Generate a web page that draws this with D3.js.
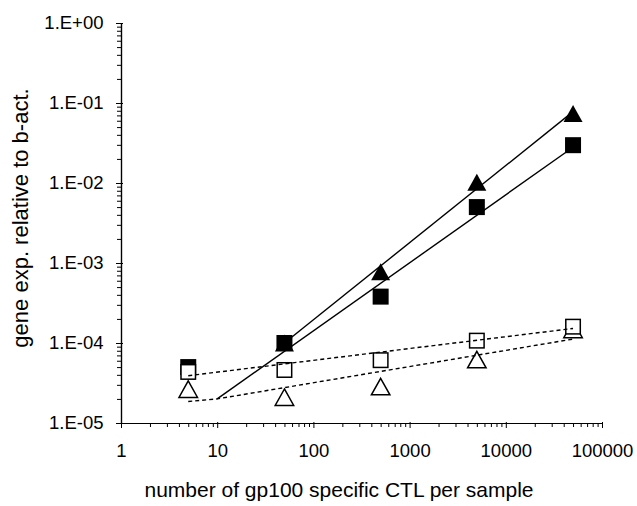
<!DOCTYPE html>
<html>
<head>
<meta charset="utf-8">
<script src="https://cdn.jsdelivr.net/npm/d3@7"></script>
<style>
  body { margin: 0; background: #fff; }
  text { font-family: "Liberation Sans", Arial, sans-serif; fill: #000; }
</style>
</head>
<body>
<div class="d3"></div>
<script>
// cells per sample
var cells = [5, 50, 500, 5000, 50000];

// marker series (null = not drawn)
var filledTriangle = [null, 1.0e-4, 7.8e-4, 1.02e-2, 7.4e-2];
var filledSquare   = [5.0e-5, 1.0e-4, 3.8e-4, 5.0e-3, 2.97e-2];
var openSquare     = [4.35e-5, 4.6e-5, 6.1e-5, 1.07e-4, 1.6e-4];
var openTriangle   = [2.65e-5, 2.1e-5, 2.85e-5, 6.2e-5, 1.48e-4];

// trend lines
var solidTriLine  = { x: [50, 50000], y: [1.0e-4, 7.8e-2] };
var solidSqLine   = { x: [10, 50000], y: [2.0e-5, 2.8e-2] };
var dashedSqLine  = { x: [5, 50000], y: [3.9e-5, 1.52e-4] };
var dashedTriLine = { x: [5, 10, 50000], y: [1.86e-5, 2.0e-5, 1.12e-4] };

// axis ticks
var xTickValues = [1, 10, 100, 1000, 10000, 100000];
var xTickLabels = ["1", "10", "100", "1000", "10000", "100000"];
var yTickValues = [1e-5, 1e-4, 1e-3, 1e-2, 1e-1, 1];
var yTickLabels = ["1.E-05", "1.E-04", "1.E-03", "1.E-02", "1.E-01", "1.E+00"];

var w = 637, h = 506;

var svg = d3.select(".d3").append("svg")
	.attr("width", w)
	.attr("height", h);

var xScale = d3.scaleLog().domain([1, 1e5]).range([121, 602]);
var yScale = d3.scaleLog().domain([1e-5, 1]).range([423, 23]);

// minor ticks 2..9 of every decade
function minors(decades) {
	var out = [];
	decades.slice(0, -1).forEach(d => {
		for (var k = 2; k <= 9; k++) out.push(d * k);
	});
	return out;
}

// --- axes
var xMinor = d3.axisBottom(xScale).tickValues(minors(xTickValues)).tickSize(4).tickSizeOuter(0).tickFormat("");
var xMajor = d3.axisBottom(xScale).tickValues(xTickValues).tickSize(5).tickSizeOuter(0)
	.tickFormat((d, i) => xTickLabels[i]);
var yMinor = d3.axisLeft(yScale).tickValues(minors(yTickValues)).tickSize(4).tickSizeOuter(0).tickFormat("");
var yMajor = d3.axisLeft(yScale).tickValues(yTickValues).tickSize(5).tickSizeOuter(0)
	.tickFormat((d, i) => yTickLabels[i]);

var gx = svg.append("g").attr("transform", "translate(0,423)");
gx.append("g").call(xMinor);
gx.append("g").call(xMajor);
gx.selectAll("text")
	.attr("y", 34).attr("dy", null)
	.style("font-size", "18.5px");

var gy = svg.append("g").attr("transform", "translate(121,0)");
gy.append("g").call(yMinor);
gy.append("g").call(yMajor);
gy.selectAll("text")
	.attr("x", -17.5)
	.style("font-size", "18.5px");

// major ticks poke a little into the plot
gx.selectAll("line").filter(d => xTickValues.includes(d)).attr("y1", -1);
gy.selectAll("line").filter(d => yTickValues.includes(d)).attr("x1", 2);

svg.selectAll(".domain").attr("stroke", "#000").attr("stroke-width", 1.2);
svg.selectAll(".tick line").attr("stroke", "#000").attr("stroke-width", 1);

// --- markers
var tri = (s) => "M0," + (-s / 2) + "L" + (s / 2 + 1) + "," + (s / 2) + "L" + (-s / 2 - 1) + "," + (s / 2) + "Z";

function drawMarkers(values, shape, filled) {
	var pts = cells.map((c, i) => ({ x: c, y: values[i] })).filter(d => d.y != null);
	var g = svg.append("g");
	if (shape == "square") {
		var s = filled ? 16 : 14.5;
		g.selectAll("rect").data(pts).enter().append("rect")
			.attr("x", d => xScale(d.x) - s / 2)
			.attr("y", d => yScale(d.y) - s / 2)
			.attr("width", s).attr("height", s)
			.attr("fill", filled ? "#000" : "#fff")
			.attr("stroke", "#000")
			.attr("stroke-width", filled ? 0 : 1.5);
	} else {
		var s2 = filled ? 17 : 16.5;
		g.selectAll("path").data(pts).enter().append("path")
			.attr("transform", d => "translate(" + xScale(d.x) + "," + yScale(d.y) + ")")
			.attr("d", tri(s2))
			.attr("fill", filled ? "#000" : "#fff")
			.attr("stroke", "#000")
			.attr("stroke-width", filled ? 0 : 1.5);
	}
}

drawMarkers(filledTriangle, "triangle", true);
drawMarkers(filledSquare, "square", true);
drawMarkers(openTriangle, "triangle", false);
drawMarkers(openSquare, "square", false);

// --- lines (drawn over the markers, as in the original)
var line = d3.line().x(d => xScale(d[0])).y(d => yScale(d[1]));
function drawLine(l, dashed) {
	svg.append("path")
		.datum(l.x.map((v, i) => [v, l.y[i]]))
		.attr("d", line)
		.attr("fill", "none")
		.attr("stroke", "#000")
		.attr("stroke-width", 1.4)
		.attr("stroke-dasharray", dashed ? "4,3" : null);
}
drawLine(dashedSqLine, true);
drawLine(dashedTriLine, true);
drawLine(solidTriLine, false);
drawLine(solidSqLine, false);

// --- titles
svg.append("text")
	.attr("x", 339).attr("y", 497)
	.attr("text-anchor", "middle")
	.style("font-size", "21px")
	.text("number of gp100 specific CTL per sample");

svg.append("text")
	.attr("transform", "translate(28,218) rotate(-90)")
	.attr("text-anchor", "middle")
	.style("font-size", "22px")
	.text("gene exp. relative to b-act.");
</script>
</body>
</html>
